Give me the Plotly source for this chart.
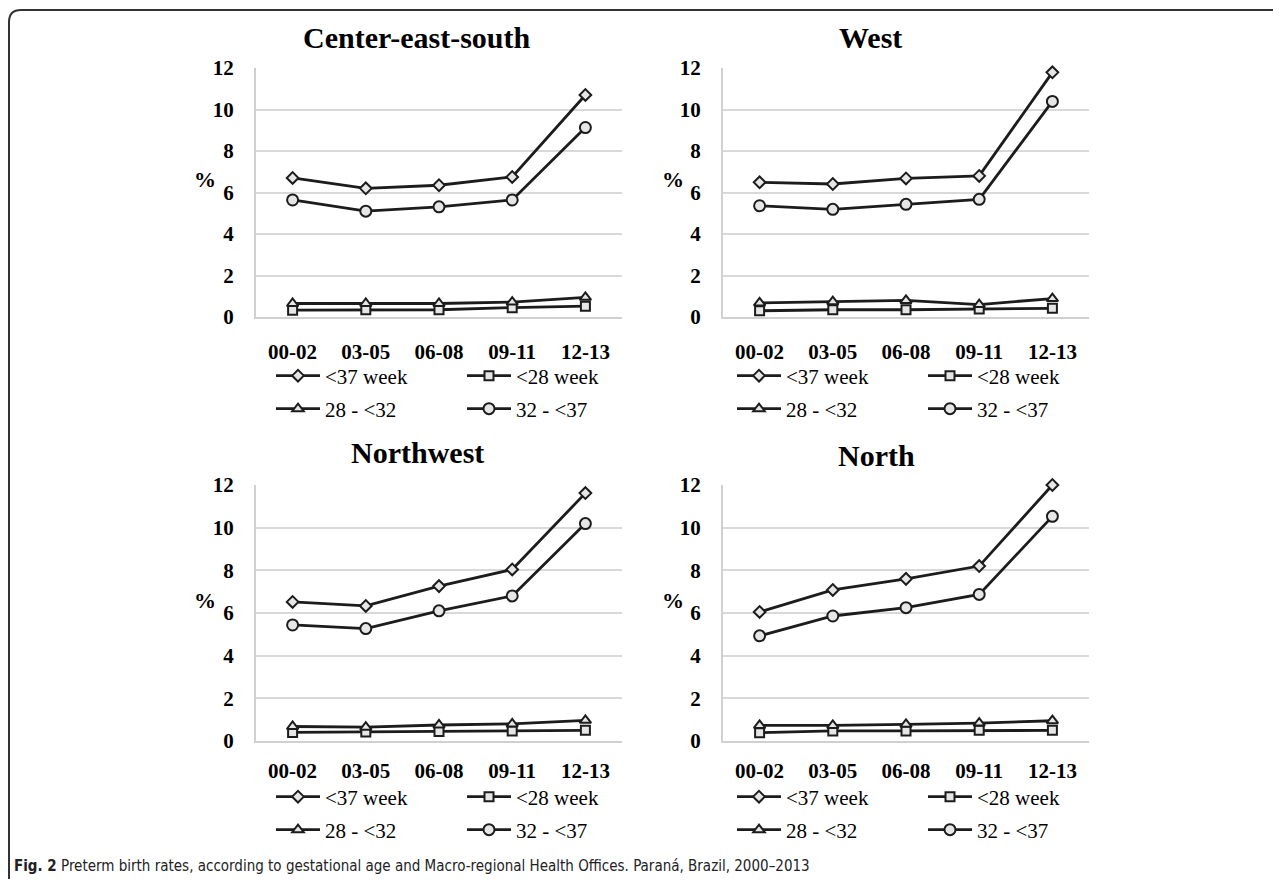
import plotly.graph_objects as go

# page offset (browser body margin) and figure size
OX, OY = 8, 8
W, H = 1265, 871

periods = ["00-02", "03-05", "06-08", "09-11", "12-13"]
series_names = ["<37 week", "<28 week", "28 - <32", "32 - <37"]
regions = ["Center-east-south", "West", "Northwest", "North"]

# values (%) per region, per series
ces_lt37 = [6.70, 6.20, 6.35, 6.75, 10.70]
ces_lt28 = [0.33, 0.35, 0.35, 0.45, 0.52]
ces_28_32 = [0.65, 0.65, 0.65, 0.72, 0.95]
ces_32_37 = [5.64, 5.10, 5.31, 5.64, 9.13]

west_lt37 = [6.49, 6.41, 6.68, 6.80, 11.79]
west_lt28 = [0.30, 0.35, 0.35, 0.38, 0.42]
west_28_32 = [0.68, 0.74, 0.80, 0.60, 0.89]
west_32_37 = [5.36, 5.19, 5.43, 5.67, 10.39]

nw_lt37 = [6.52, 6.33, 7.26, 8.04, 11.62]
nw_lt28 = [0.40, 0.42, 0.45, 0.47, 0.50]
nw_28_32 = [0.68, 0.65, 0.75, 0.80, 0.97]
nw_32_37 = [5.44, 5.27, 6.10, 6.80, 10.19]

n_lt37 = [6.05, 7.08, 7.60, 8.20, 12.00]
n_lt28 = [0.39, 0.47, 0.47, 0.50, 0.50]
n_28_32 = [0.73, 0.73, 0.78, 0.84, 0.95]
n_32_37 = [4.93, 5.86, 6.25, 6.87, 10.53]

data = [
    [ces_lt37, ces_lt28, ces_28_32, ces_32_37],
    [west_lt37, west_lt28, west_28_32, west_32_37],
    [nw_lt37, nw_lt28, nw_28_32, nw_32_37],
    [n_lt37, n_lt28, n_28_32, n_32_37],
]

symbols = ["diamond", "square", "triangle-up", "circle"]
msizes = [9, 9, 10, 11]
LINE = "#1c1c1c"
SERIF = "Liberation Serif, Times New Roman, serif"


def px(x):
    return (x - OX) / W


def py(y):
    return 1 - (y - OY) / H


# plot-area pixel boxes (left, right, top, bottom) in screenshot pixels
boxes = [
    (256, 622, 68, 317),
    (723, 1089, 68, 317),
    (256, 622, 485, 741),
    (723, 1089, 485, 741),
]
xlabel_standoff = [15, 15, 10, 10]
title_pos = [(416, 37), (871, 37), (417, 453), (876, 455)]
pct_pos = [(205, 180), (673, 180), (205, 600), (673, 600)]
legend_rows = [(271, 376, 409), (732, 376, 409), (271, 797, 830), (732, 797, 830)]

fig = go.Figure()
layout = dict(
    width=W, height=H,
    margin=dict(l=0, r=0, t=0, b=0, autoexpand=False),
    paper_bgcolor="white", plot_bgcolor="white",
    showlegend=True,
    annotations=[], shapes=[],
)

for i in range(4):
    ax = "" if i == 0 else str(i + 1)
    l, r, t, b = boxes[i]
    leg_a = "legend" if i == 0 else f"legend{2 * i + 1}"
    leg_b = f"legend{2 * i + 2}"
    for s in range(4):
        fig.add_trace(go.Scatter(
            x=periods, y=data[i][s], name=series_names[s],
            mode="lines+markers", cliponaxis=False,
            line=dict(color=LINE, width=2.8),
            marker=dict(symbol=symbols[s], size=msizes[s], color="#e6e6e6",
                        line=dict(color=LINE, width=2)),
            xaxis="x" + ax, yaxis="y" + ax,
            legend=leg_a if s < 2 else leg_b,
        ))
    layout["xaxis" + ax] = dict(
        domain=[px(l), px(r)], anchor="y" + ax, type="category",
        range=[-0.5, 4.5], showgrid=False, zeroline=False,
        showline=True, linecolor="#d0d0d0", linewidth=2, ticks="",
        tickfont=dict(family=SERIF, size=21, color="black", weight="bold"),
        ticklabelstandoff=xlabel_standoff[i], fixedrange=True,
    )
    layout["yaxis" + ax] = dict(
        domain=[py(b), py(t)], anchor="x" + ax, range=[0, 12],
        tickvals=[0, 2, 4, 6, 8, 10, 12], showgrid=True,
        gridcolor="#d9d9d9", gridwidth=2, zeroline=False,
        showline=True, linecolor="#d0d0d0", linewidth=2, ticks="",
        tickfont=dict(family=SERIF, size=21, color="black", weight="bold"),
        ticklabelstandoff=16, fixedrange=True,
    )
    tx, ty = title_pos[i]
    layout["annotations"].append(dict(
        x=px(tx), y=py(ty), xref="paper", yref="paper", showarrow=False,
        text="<b>" + regions[i] + "</b>", xanchor="center", yanchor="middle",
        font=dict(family=SERIF, size=30, color="black"),
    ))
    cx, cy = pct_pos[i]
    layout["annotations"].append(dict(
        x=px(cx), y=py(cy), xref="paper", yref="paper", showarrow=False,
        text="<b>%</b>", xanchor="center", yanchor="middle",
        font=dict(family=SERIF, size=22, color="black"),
    ))
    lx, r1, r2 = legend_rows[i]
    for name, ry in ((leg_a, r1), (leg_b, r2)):
        layout[name] = dict(
            x=px(lx), y=py(ry), xref="paper", yref="paper",
            xanchor="left", yanchor="middle", orientation="h",
            entrywidth=132, entrywidthmode="pixels", itemwidth=44,
            bgcolor="rgba(0,0,0,0)", borderwidth=0,
            font=dict(family=SERIF, size=21, color="black"),
            itemclick=False, itemdoubleclick=False,
        )

# caption
layout["annotations"].append(dict(
    x=px(12), y=py(866), xref="paper", yref="paper", showarrow=False,
    xanchor="left", yanchor="middle",
    text="<b>Fig. 2</b> Preterm birth rates, according to gestational age and "
         "Macro-regional Health Offices. Paraná, Brazil, 2000–2013",
    font=dict(family="Liberation Sans Narrow, DejaVu Sans Condensed, Liberation Sans, sans-serif",
              size=15, color="#222"),
))

# frame
layout["shapes"].append(dict(
    type="path", xref="paper", yref="paper",
    path=(f"M {px(1300)},{py(10)} L {px(21)},{py(10)} "
          f"Q {px(9)},{py(10)} {px(9)},{py(22)} L {px(9)},{py(882)}"),
    line=dict(color="#333", width=2),
))

fig.update_layout(**layout)
fig.write_html("out.html")
